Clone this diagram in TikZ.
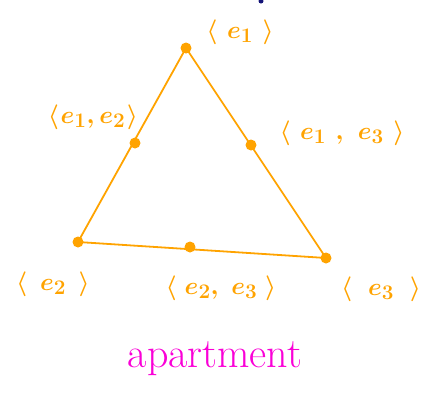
\documentclass[tikz,border=0pt]{standalone}
\usepackage{amsmath}
\definecolor{sketchorange}{RGB}{255,163,0}
\definecolor{sketchpink}{RGB}{250,0,215}
\definecolor{sketchnavy}{RGB}{20,20,120}
\newcommand{\gp}[1]{\mskip#1mu}
\tikzset{
  lbl/.style={text=sketchorange,font=\fontsize{31}{34}\selectfont\boldmath},
  dot/.style={fill=sketchorange}
}
\begin{document}
\begin{tikzpicture}[x=1pt,y=-1pt]
    \useasboundingbox (0,0) rectangle (432,397);

    \coordinate (top) at (186,48);
    \coordinate (left) at (78,242);
    \coordinate (right) at (326,258);
    \coordinate (mtl) at (135,143);
    \coordinate (mtr) at (251,145);
    \coordinate (mlr) at (190,247);

    \draw[sketchorange,line width=1.8pt,line join=round] (top)--(left)--(right)--cycle;

    \foreach \p in {top,left,right,mtl,mtr,mlr}
        \fill[dot] (\p) circle (5.5);

    \node[lbl] (l1) at (240,32) {$\langle\gp{6}e_1\gp{6}\rangle$};
    \node[lbl] (l12) at (93,117) {$\langle\gp{1}e_1,e_2\gp{1}\rangle$};
    \node[lbl] (l13) at (342,133) {$\langle\gp{6}e_1\gp{6},\gp{6}e_3\gp{6}\rangle$};
    \node[lbl] (l2) at (53,284) {$\langle\gp{8}e_2\gp{8}\rangle$};
    \node[lbl] (l23) at (221,288) {$\langle\gp{5}e_2,\gp{5}e_3\gp{5}\rangle$};
    \node[lbl] (l3) at (381,289) {$\langle\gp{10}e_3\gp{10}\rangle$};

    \node[text=sketchpink,font=\fontsize{42}{46}\selectfont] (apt) at (215,359) {apartment};

    \fill[sketchnavy] (261,1) circle (2.5);
\end{tikzpicture}
\end{document}
